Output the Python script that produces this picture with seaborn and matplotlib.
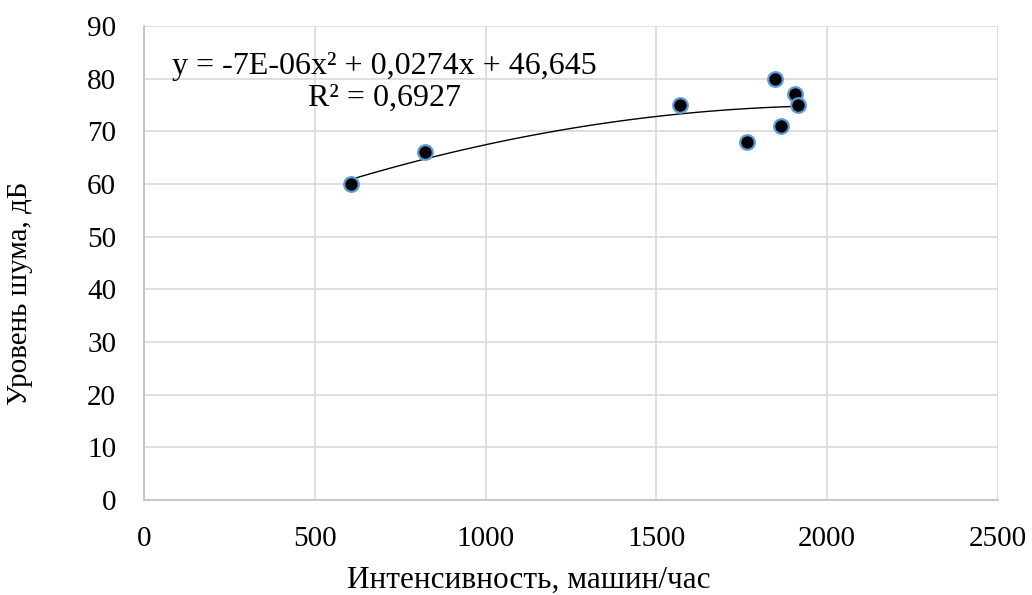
import numpy as np
import pandas as pd
import matplotlib
matplotlib.use("Agg")
import matplotlib.pyplot as plt
import seaborn as sns

# Data
intensity = [607, 824, 1569, 1764, 1848, 1865, 1906, 1915]
noise = [60, 66, 75, 68, 80, 71, 77, 75]
x_ticks = [0, 500, 1000, 1500, 2000, 2500]
y_ticks = [0, 10, 20, 30, 40, 50, 60, 70, 80, 90]
equation_text = "y = -7E-06x\u00b2 + 0,0274x + 46,645\nR\u00b2 = 0,6927"
x_label = "Интенсивность, машин/час"
y_label = "Уровень шума, дБ"

df = pd.DataFrame({"x": intensity, "y": noise})

sns.set_style("white")
plt.rcParams["font.family"] = ["Liberation Serif", "DejaVu Serif"]
plt.rcParams["text.color"] = "black"
plt.rcParams["axes.labelcolor"] = "black"
plt.rcParams["xtick.color"] = "black"
plt.rcParams["ytick.color"] = "black"

fig = plt.figure(figsize=(10.32, 5.95), dpi=100)
ax = fig.add_axes([144 / 1032, 95 / 595, 854 / 1032, 474 / 595])

sns.regplot(data=df, x="x", y="y", order=2, ci=None, scatter=False,
            line_kws={"color": "black", "lw": 1.0}, ax=ax)
sns.scatterplot(data=df, x="x", y="y", s=110, color="black",
                edgecolor="#5B9BD5", linewidth=1.6, zorder=5, ax=ax)

ax.set_xlim(0, 2500)
ax.set_ylim(0, 90)
ax.set_xticks(x_ticks)
ax.set_yticks(y_ticks)
ax.tick_params(axis="both", length=0, labelsize=21, colors="black")
ax.tick_params(axis="x", pad=19)
ax.tick_params(axis="y", pad=20)
ax.grid(True, color="#D9D9D9", lw=1.2)
ax.set_axisbelow(True)
for s in ["top", "right"]:
    ax.spines[s].set_visible(False)
for s in ["left", "bottom"]:
    ax.spines[s].set_color("#BFBFBF")
    ax.spines[s].set_linewidth(1.2)

ax.set_xlabel(x_label, fontsize=22.5, color="black")
ax.set_ylabel(y_label, fontsize=21, color="black")
ax.xaxis.set_label_coords(0.451, -0.139)
ax.yaxis.set_label_coords(-0.130, 0.437)

ax.text(705, 79.3, equation_text, fontsize=23, ha="center", va="center",
        multialignment="center", linespacing=1.1, color="black")

fig.savefig("out.png", dpi=100)
